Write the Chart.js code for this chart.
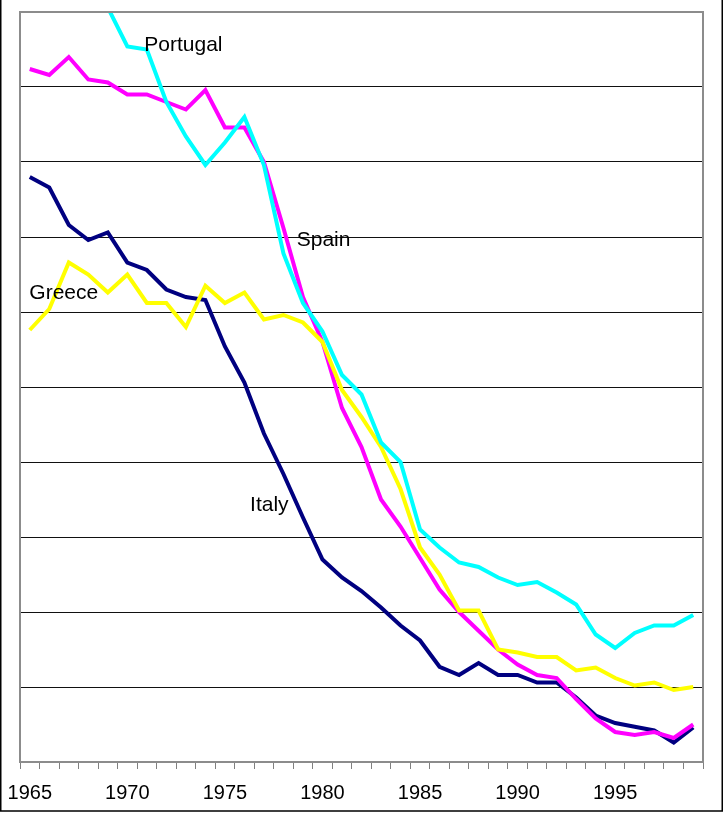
<!DOCTYPE html>
<html>
<head>
<meta charset="utf-8">
<script src="https://cdn.jsdelivr.net/npm/chart.js@4/dist/chart.umd.min.js"></script>
<style>
  html, body { margin: 0; padding: 0; background: #ffffff; }
  #wrap { position: relative; width: 724px; height: 822px; }
</style>
</head>
<body>
<div id="wrap"><canvas id="c" width="724" height="822"></canvas></div>
<script>
const years = [1965,1966,1967,1968,1969,1970,1971,1972,1973,1974,1975,1976,1977,1978,1979,
  1980,1981,1982,1983,1984,1985,1986,1987,1988,1989,1990,1991,1992,1993,1994,1995,1996,1997,1998,1999];
const tickYears = [1965,1970,1975,1980,1985,1990,1995];

const portugal = [56.0,55.0,54.0,52.0,50.3,47.7,47.5,44.0,41.7,39.8,41.3,43.0,39.8,33.9,30.6,
  28.7,25.8,24.5,21.3,20.0,15.5,14.3,13.3,13.0,12.3,11.8,12.0,11.3,10.5,8.5,7.6,8.6,9.1,9.1,9.8];
const spain = [46.2,45.8,47.0,45.5,45.3,44.5,44.5,44.0,43.5,44.8,42.3,42.3,40.0,35.6,31.0,
  28.0,23.6,21.0,17.5,15.7,13.6,11.5,10.0,8.75,7.5,6.5,5.8,5.6,4.2,2.9,2.0,1.8,2.0,1.6,2.5];
const greece = [28.8,30.2,33.3,32.5,31.3,32.5,30.6,30.6,29.0,31.75,30.6,31.3,29.5,29.8,29.3,
  28.0,24.8,23.0,21.0,18.2,14.3,12.5,10.1,10.1,7.5,7.3,7.0,7.0,6.1,6.3,5.6,5.1,5.3,4.8,5.0];
const italy = [39.0,38.3,35.8,34.8,35.3,33.3,32.8,31.5,31.0,30.8,27.7,25.3,21.9,19.2,16.3,
  13.5,12.3,11.4,10.3,9.1,8.1,6.35,5.8,6.6,5.8,5.8,5.3,5.3,4.3,3.1,2.6,2.35,2.1,1.3,2.3];

const seriesNames = ['Portugal','Greece','Spain','Italy'];

const FONT = '"Liberation Sans", Arial, Helvetica, sans-serif';

// In-chart series labels, anchored in data space (category index, value)
const labelAnchors = [
  { text: 'Portugal', idx: 5.87, val: 47.78 },
  { text: 'Spain',    idx: 13.68, val: 34.77 },
  { text: 'Greece',   idx: -0.02, val: 31.23 },
  { text: 'Italy',    idx: 11.29, val: 17.13 }
];

const decorPlugin = {
  id: 'decor',
  afterDatasetsDraw(chart) {
    const { ctx, chartArea: a, scales } = chart;
    ctx.save();
    // plot frame (top and right)
    ctx.strokeStyle = '#8c8c8c';
    ctx.lineWidth = 2;
    ctx.beginPath();
    ctx.moveTo(a.left, a.top);
    ctx.lineTo(a.right, a.top);
    ctx.lineTo(a.right, a.bottom);
    ctx.stroke();
    // series labels
    ctx.fillStyle = '#000000';
    ctx.font = '21px ' + FONT;
    ctx.textAlign = 'left';
    ctx.textBaseline = 'middle';
    labelAnchors.forEach(l => {
      const x = scales.x.getPixelForValue(l.idx);
      const y = scales.y.getPixelForValue(l.val);
      ctx.fillText(l.text, x, y);
    });
    ctx.restore();
  },
  afterDraw(chart) {
    const { ctx } = chart;
    ctx.save();
    ctx.strokeStyle = '#000000';
    ctx.lineWidth = 1.5;
    ctx.beginPath();
    ctx.moveTo(0.75, 0);
    ctx.lineTo(0.75, 811);
    ctx.lineTo(722.25, 811);
    ctx.lineTo(722.25, 0);
    ctx.stroke();
    ctx.restore();
  }
};

function ds(label, data, color, order) {
  return {
    label, data,
    borderColor: color,
    backgroundColor: color,
    borderWidth: 4,
    pointRadius: 0,
    pointHoverRadius: 0,
    tension: 0,
    fill: false,
    order
  };
}

new Chart(document.getElementById('c'), {
  type: 'line',
  data: {
    labels: years.map(String),
    datasets: [
      ds(seriesNames[0], portugal, '#00ffff', 0),
      ds(seriesNames[1], greece, '#ffff00', 1),
      ds(seriesNames[2], spain, '#ff00ff', 2),
      ds(seriesNames[3], italy, '#000080', 3)
    ]
  },
  options: {
    responsive: false,
    animation: false,
    events: [],
    layout: { padding: { left: 0, right: 21, top: 12, bottom: 0 } },
    plugins: { legend: { display: false }, tooltip: { enabled: false }, title: { display: false } },
    scales: {
      x: {
        type: 'category',
        offset: true,
        afterFit: s => { s.height = 60; s.paddingLeft = 0; s.paddingRight = 0; },
        grid: {
          offset: true,
          drawOnChartArea: false,
          drawTicks: true,
          tickLength: 7,
          color: '#808080',
          lineWidth: 1
        },
        border: { display: true, color: '#8c8c8c', width: 2 },
        ticks: {
          autoSkip: false,
          maxRotation: 0,
          minRotation: 0,
          padding: 12,
          color: '#000000',
          font: { family: FONT, size: 20 },
          callback: function(v, i) {
            const yr = years[i];
            return tickYears.includes(yr) ? String(yr) : '';
          }
        }
      },
      y: {
        min: 0,
        max: 50,
        afterFit: s => { s.width = 20; s.paddingTop = 0; s.paddingBottom = 0; },
        ticks: { display: false, stepSize: 5 },
        grid: {
          drawTicks: false,
          lineWidth: 1,
          color: ctx => (ctx.tick && (ctx.tick.value === 0 || ctx.tick.value === 50)) ? 'rgba(0,0,0,0)' : '#111111'
        },
        border: { display: true, color: '#8c8c8c', width: 2 }
      }
    }
  },
  plugins: [decorPlugin]
});
</script>
</body>
</html>
